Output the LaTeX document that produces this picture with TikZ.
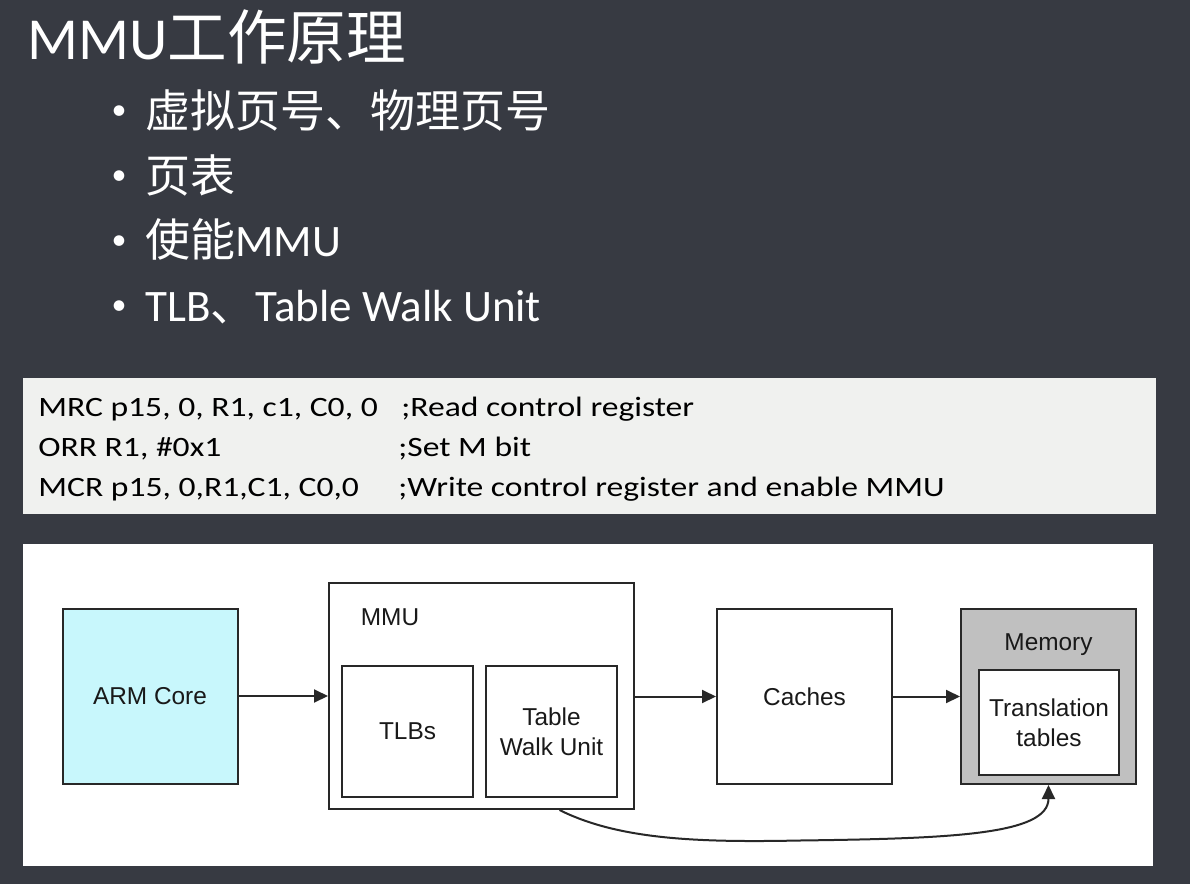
\documentclass[tikz,border=0pt]{standalone}
\usepackage{fontspec}
\setmainfont{Carlito}
\newfontfamily\cjk{Noto Sans CJK SC}
\newfontfamily\arialf{Liberation Sans}
\newfontfamily\codefont[FakeStretch=1.2]{Carlito}
\usetikzlibrary{arrows.meta}
\definecolor{bg}{RGB}{55,58,66}
\definecolor{codebg}{RGB}{240,241,239}
\definecolor{armfill}{RGB}{200,247,252}
\definecolor{memfill}{RGB}{192,192,192}
\definecolor{edge}{RGB}{40,40,40}
\tikzset{
  titletext/.style={anchor=base west,inner sep=0pt,text=white,font=\fontsize{29.8}{34}\selectfont},
  bullettext/.style={anchor=base west,inner sep=0pt,text=white,font=\fontsize{22.5}{26}\selectfont},
  bulletdot/.style={anchor=center,inner sep=0pt,text=white,font=\fontsize{15}{18}\selectfont},
  codetext/.style={anchor=base west,inner sep=0pt,text=black,font=\codefont\fontsize{14}{16}\selectfont},
  blk/.style={draw=edge,line width=1pt,fill=white,inner sep=0pt,align=center,
    font=\arialf\fontsize{12.2}{14.8}\selectfont,text=black!90},
  lbl/.style={inner sep=0pt,font=\arialf\fontsize{12.2}{14.8}\selectfont,text=black!90},
  conn/.style={draw=edge,line width=1pt,-{Triangle[length=7pt,width=6.5pt]}}
}
\begin{document}
\begin{tikzpicture}[x=0.5pt,y=-0.5pt]
\fill[bg] (0,0) rectangle (1190,884);
\useasboundingbox (0,0) rectangle (1190,884);
% title
\node[titletext] (title) at (27,59) {MMU{\cjk 工作原理}};
% bullets
\node[bulletdot] (d1) at (119,113) {•};
\node[bullettext] (b1) at (145,127) {\cjk 虚拟页号、物理页号};
\node[bulletdot] (d2) at (119,178) {•};
\node[bullettext] (b2) at (145,192) {\cjk 页表};
\node[bulletdot] (d3) at (119,243) {•};
\node[bullettext] (b3) at (145,256) {{\cjk 使能}MMU};
\node[bulletdot] (d4) at (119,308) {•};
\node[bullettext] (b4) at (145,321) {TLB{\cjk 、}Table Walk Unit};
% code box
\fill[codebg] (23,378) rectangle (1156,514);
\node[codetext] (c1) at (38,416.5) {MRC p15, 0, R1, c1, C0, 0};
\node[codetext] (c1b) at (401,416.5) {;Read control register};
\node[codetext] (c2) at (38,456.5) {ORR R1, \#0x1};
\node[codetext] (c2b) at (398,456.5) {;Set M bit};
\node[codetext] (c3) at (38,496.5) {MCR p15, 0,R1,C1, C0,0};
\node[codetext] (c3b) at (398,496.5) {;Write control register and enable MMU};
% diagram panel
\fill[white] (23,544) rectangle (1153,866);
\node[blk,fill=armfill,minimum width=87.5pt,minimum height=87.5pt] (arm) at (150,696) {ARM Core};
\node[blk,minimum width=152.5pt,minimum height=113pt] (mmu) at (481.5,696) {};
\node[lbl] (mmulbl) at (390,617) {MMU};
\node[blk,minimum width=65.5pt,minimum height=65.5pt] (tlb) at (407.5,731.5) {TLBs};
\node[blk,minimum width=65.5pt,minimum height=65.5pt] (twu) at (551.5,731.5) {Table\\Walk Unit};
\node[blk,minimum width=87.5pt,minimum height=87.5pt] (cache) at (804.5,696.5) {Caches};
\node[blk,fill=memfill,minimum width=87.5pt,minimum height=87.5pt] (mem) at (1048.5,696.5) {};
\node[lbl] (memlbl) at (1048.5,645) {Memory};
\node[blk,minimum width=70pt,minimum height=52.5pt] (tt) at (1049,722.5) {Translation\\tables};
% connectors
\draw[conn] (arm.east) -- (mmu.west);
\draw[conn] (mmu.east |- cache.west) -- (cache.west);
\draw[conn] (cache.east) -- (mem.west);
\draw[conn] ([xshift=4pt]twu.south |- mmu.south) .. controls +(60,30) and +(-100,2) .. (800,840.5)
   .. controls +(150,-2) and +(0,50) .. (mem.south);
\end{tikzpicture}
\end{document}
